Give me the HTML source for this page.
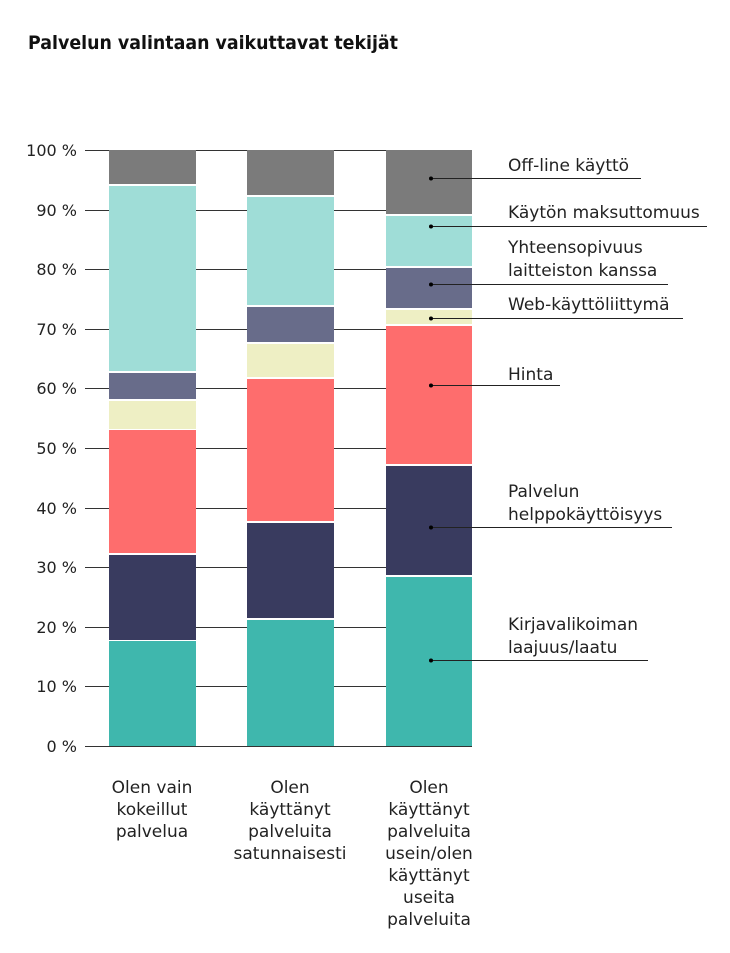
<!DOCTYPE html>
<html><head><meta charset="utf-8"><style>
body{margin:0;background:#fff;}
svg text{font-family:"DejaVu Sans","Liberation Sans",sans-serif;}
</style></head><body>
<svg width="730" height="948" viewBox="0 0 730 948" xmlns="http://www.w3.org/2000/svg">
<rect width="730" height="948" fill="#fff"/>
<text x="28" y="49" font-size="19" font-weight="bold" fill="#111" textLength="370" lengthAdjust="spacingAndGlyphs">Palvelun valintaan vaikuttavat tekijät</text>
<g stroke="#333" stroke-width="1">
<line x1="85" y1="150.5" x2="472" y2="150.5"/><line x1="85" y1="210.5" x2="472" y2="210.5"/>
<line x1="85" y1="269.5" x2="472" y2="269.5"/><line x1="85" y1="329.5" x2="472" y2="329.5"/>
<line x1="85" y1="388.5" x2="472" y2="388.5"/><line x1="85" y1="448.5" x2="472" y2="448.5"/>
<line x1="85" y1="508.5" x2="472" y2="508.5"/><line x1="85" y1="567.5" x2="472" y2="567.5"/>
<line x1="85" y1="627.5" x2="472" y2="627.5"/><line x1="85" y1="686.5" x2="472" y2="686.5"/>
<line x1="85" y1="746.5" x2="472" y2="746.5"/>
</g>
<g font-size="16" fill="#222" text-anchor="end">
<text x="77" y="156">100 %</text><text x="77" y="216">90 %</text><text x="77" y="275">80 %</text>
<text x="77" y="335">70 %</text><text x="77" y="394">60 %</text><text x="77" y="454">50 %</text>
<text x="77" y="514">40 %</text><text x="77" y="573">30 %</text><text x="77" y="633">20 %</text>
<text x="77" y="692">10 %</text><text x="77" y="752">0 %</text>
</g>
<g>
<rect x="109" y="641" width="87" height="105" fill="#3fb7ad"/>
<rect x="109" y="555" width="87" height="85" fill="#393b5f"/>
<rect x="109" y="430" width="87" height="123" fill="#fe6d6d"/>
<rect x="109" y="401" width="87" height="28" fill="#eeefc4"/>
<rect x="109" y="373" width="87" height="26" fill="#686c8a"/>
<rect x="109" y="186" width="87" height="185" fill="#9fddd7"/>
<rect x="109" y="150" width="87" height="34" fill="#7b7b7b"/>
</g>
<g>
<rect x="247" y="620" width="87" height="126" fill="#3fb7ad"/>
<rect x="247" y="523" width="87" height="95" fill="#393b5f"/>
<rect x="247" y="379" width="87" height="142" fill="#fe6d6d"/>
<rect x="247" y="344" width="87" height="33" fill="#eeefc4"/>
<rect x="247" y="307" width="87" height="35" fill="#686c8a"/>
<rect x="247" y="197" width="87" height="108" fill="#9fddd7"/>
<rect x="247" y="150" width="87" height="45" fill="#7b7b7b"/>
</g>
<g>
<rect x="386" y="577" width="86" height="169" fill="#3fb7ad"/>
<rect x="386" y="466" width="86" height="109" fill="#393b5f"/>
<rect x="386" y="326" width="86" height="138" fill="#fe6d6d"/>
<rect x="386" y="310" width="86" height="14" fill="#eeefc4"/>
<rect x="386" y="268" width="86" height="40" fill="#686c8a"/>
<rect x="386" y="216" width="86" height="50" fill="#9fddd7"/>
<rect x="386" y="150" width="86" height="64" fill="#7b7b7b"/>
</g>
<g stroke="#222" stroke-width="1">
<line x1="431" y1="178.5" x2="641" y2="178.5"/>
<line x1="431" y1="226.5" x2="707" y2="226.5"/>
<line x1="431" y1="284.5" x2="668" y2="284.5"/>
<line x1="431" y1="318.5" x2="683" y2="318.5"/>
<line x1="431" y1="385.5" x2="560" y2="385.5"/>
<line x1="431" y1="527.5" x2="672" y2="527.5"/>
<line x1="431" y1="660.5" x2="648" y2="660.5"/>
</g>
<g fill="#000">
<circle cx="431" cy="178.5" r="2"/><circle cx="431" cy="226.5" r="2"/><circle cx="431" cy="284.5" r="2"/>
<circle cx="431" cy="318.5" r="2"/><circle cx="431" cy="385.5" r="2"/><circle cx="431" cy="527.5" r="2"/>
<circle cx="431" cy="660.5" r="2"/>
</g>
<g font-size="17" fill="#222">
<text x="508" y="171">Off-line käyttö</text>
<text x="508" y="218">Käytön maksuttomuus</text>
<text x="508" y="253">Yhteensopivuus</text>
<text x="508" y="276">laitteiston kanssa</text>
<text x="508" y="310">Web-käyttöliittymä</text>
<text x="508" y="380">Hinta</text>
<text x="508" y="497">Palvelun</text>
<text x="508" y="520">helppokäyttöisyys</text>
<text x="508" y="630">Kirjavalikoiman</text>
<text x="508" y="653">laajuus/laatu</text>
</g>
<g font-size="17" fill="#222" text-anchor="middle">
<text x="152" y="793">Olen vain</text><text x="152" y="815">kokeillut</text><text x="152" y="837">palvelua</text>
<text x="290" y="793">Olen</text><text x="290" y="815">käyttänyt</text><text x="290" y="837">palveluita</text><text x="290" y="859">satunnaisesti</text>
<text x="429" y="793">Olen</text><text x="429" y="815">käyttänyt</text><text x="429" y="837">palveluita</text><text x="429" y="859">usein/olen</text><text x="429" y="881">käyttänyt</text><text x="429" y="903">useita</text><text x="429" y="925">palveluita</text>
</g>
</svg>
</body></html>
